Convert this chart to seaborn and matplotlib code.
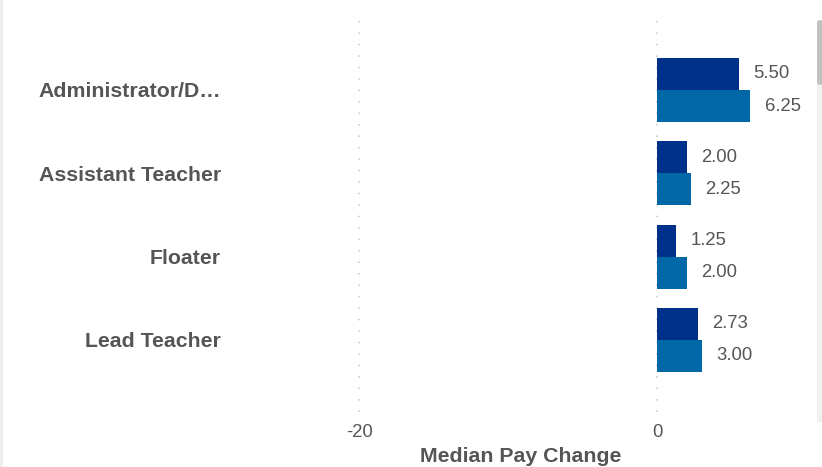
import matplotlib
matplotlib.use("Agg")
import matplotlib.pyplot as plt
from matplotlib.patches import Rectangle, FancyBboxPatch
import seaborn as sns
import pandas as pd

# ---- data ----
categories = ["Administrator/D\u2026", "Assistant Teacher", "Floater", "Lead Teacher"]
series_names = ["Series A", "Series B"]
series_a = [5.50, 2.00, 1.25, 2.73]
series_b = [6.25, 2.25, 2.00, 3.00]
x_ticks = [-20, 0]
x_label = "Median Pay Change"

colors = ["#00318A", "#0068A6"]
text_gray = "#555555"

df = pd.DataFrame({
    "category": categories * 2,
    "series": [series_names[0]] * len(categories) + [series_names[1]] * len(categories),
    "value": series_a + series_b,
})

sns.set_theme(style="white")
plt.rcParams["font.family"] = ["Liberation Sans", "DejaVu Sans"]

W, H = 822, 467
fig = plt.figure(figsize=(W / 100, H / 100), dpi=100)
fig.patch.set_facecolor("white")

ax_l, ax_r, ax_t, ax_b = 230, 812, 20, 412
ax = fig.add_axes([ax_l / W, 1 - ax_b / H, (ax_r - ax_l) / W, (ax_b - ax_t) / H])

sns.barplot(data=df, y="category", x="value", hue="series", order=categories,
            hue_order=series_names, palette=colors, width=0.77, orient="h",
            saturation=1, legend=False, linewidth=0, edgecolor="none", ax=ax)

for cont in ax.containers:
    ax.bar_label(cont, fmt="%.2f", padding=10.5, color=text_gray, fontsize=13.3)

# scale
px_per_unit = (657 - 359) / 20
ax.set_xlim(-20 - (359 - ax_l) / px_per_unit, (ax_r - 657) / px_per_unit)
ax.set_ylim(3.865, -0.84)
ax.set_xticks(x_ticks)
ax.set_xticklabels([str(t) for t in x_ticks])
ax.tick_params(axis="x", length=0, pad=8.5, labelsize=13.3, labelcolor=text_gray)
ax.tick_params(axis="y", length=0, pad=6.5, labelsize=15.3, labelcolor=text_gray)
for lab in ax.get_yticklabels():
    lab.set_fontweight("bold")

ax.xaxis.grid(True, color="#c8c8c8", linestyle=(0, (1, 6.5)), linewidth=1.1)
ax.yaxis.grid(False)
ax.set_axisbelow(True)
for s in ax.spines.values():
    s.set_visible(False)

ax.set_ylabel("")
ax.set_xlabel(x_label, fontsize=15.3, fontweight="bold", color=text_gray, labelpad=4.5)

# page decorations (left border strip and scrollbar)
fig.patches.append(Rectangle((0, 0), 3 / W, 1, transform=fig.transFigure,
                             facecolor="#eeeeee", edgecolor="none"))
fig.patches.append(FancyBboxPatch((817 / W, 1 - 423 / H), 6 / W, 403 / H,
                                  boxstyle="round,pad=0,rounding_size=0.005",
                                  transform=fig.transFigure,
                                  facecolor="#f1f1f1", edgecolor="none"))
fig.patches.append(FancyBboxPatch((817 / W, 1 - 85 / H), 6 / W, 65 / H,
                                  boxstyle="round,pad=0,rounding_size=0.005",
                                  transform=fig.transFigure,
                                  facecolor="#c1c1c1", edgecolor="none"))

fig.savefig("out.png", dpi=100)
